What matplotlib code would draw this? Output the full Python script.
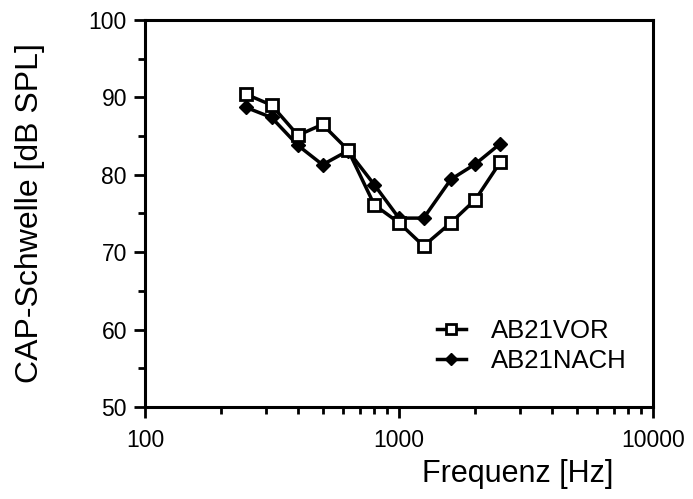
import matplotlib
matplotlib.use("Agg")
import matplotlib.pyplot as plt
from matplotlib.ticker import FixedLocator, NullFormatter, FixedFormatter

plt.rcParams['font.family'] = ['Liberation Sans', 'DejaVu Sans']

freq = [250, 315, 400, 500, 630, 800, 1000, 1250, 1600, 2000, 2500]
vor = [90.4, 89.0, 85.1, 86.5, 83.2, 76.1, 73.8, 70.8, 73.8, 76.8, 81.6]
nach = [88.7, 87.4, 83.8, 81.3, 83.1, 78.7, 74.4, 74.4, 79.4, 81.4, 84.0]

xticks = [100, 1000, 10000]
xticklabels = ["100", "1000", "10000"]
yticks = [50, 60, 70, 80, 90, 100]

fig = plt.figure(figsize=(6.93, 4.99), dpi=100)
ax = fig.add_axes([0.2092, 0.1844, 0.7331, 0.7756])

ax.plot(freq, nach, color='black', lw=2.5, marker='D', markersize=7.5,
        markerfacecolor='black', markeredgecolor='black', label='AB21NACH', zorder=3)
ax.plot(freq, vor, color='black', lw=2.5, marker='s', markersize=9,
        markerfacecolor='white', markeredgecolor='black', markeredgewidth=2,
        label='AB21VOR', zorder=4)

ax.set_xscale('log')
ax.set_xlim(100, 10000)
ax.set_ylim(50, 100)
ax.xaxis.set_major_locator(FixedLocator(xticks))
ax.xaxis.set_major_formatter(FixedFormatter(xticklabels))
minors = [m * d for d in (100, 1000) for m in range(2, 10)]
ax.xaxis.set_minor_locator(FixedLocator(minors))
ax.xaxis.set_minor_formatter(NullFormatter())
ax.set_yticks(yticks)
ax.set_yticks([55, 65, 75, 85, 95], minor=True)

ax.tick_params(which='major', direction='out', length=8, width=2, labelsize=16.5, pad=5)
ax.tick_params(axis='x', which='major', pad=8)
ax.tick_params(which='minor', direction='out', length=5, width=2)
for s in ax.spines.values():
    s.set_linewidth(2.2)

ax.set_xlabel('Frequenz [Hz]', fontsize=22)
ax.xaxis.set_label_coords(0.734, -0.135)
ax.set_ylabel('CAP-Schwelle [dB SPL]', fontsize=23)
ax.yaxis.set_label_coords(-0.197, 0.5)

handles, labels = ax.get_legend_handles_labels()
ax.legend(handles[::-1], labels[::-1], loc='upper left', bbox_to_anchor=(0.53, 0.287),
          frameon=False, fontsize=18.5, handlelength=1.1, handletextpad=1.0,
          labelspacing=0.25, markerscale=0.85)

fig.savefig('out.png', dpi=100)
